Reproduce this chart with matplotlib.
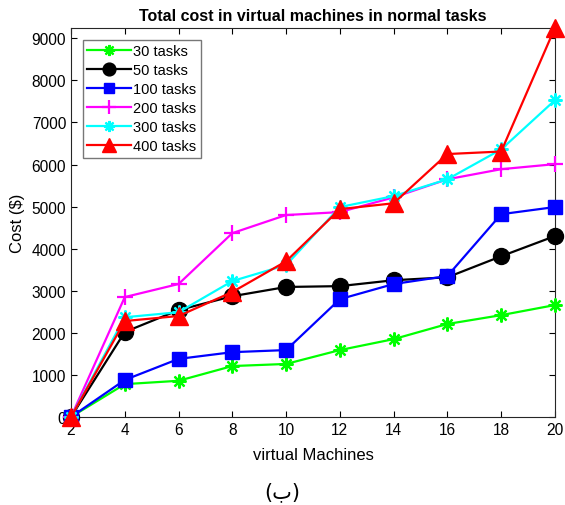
import matplotlib.pyplot as plt

plt.rcParams['font.family'] = ['Liberation Sans', 'DejaVu Sans']

vms = [2, 4, 6, 8, 10, 12, 14, 16, 18, 20]

# cost per number of tasks
t30 = [0, 780, 860, 1210, 1260, 1590, 1850, 2210, 2420, 2660]
t50 = [0, 2020, 2540, 2870, 3090, 3110, 3250, 3320, 3820, 4300]
t100 = [0, 880, 1380, 1540, 1590, 2800, 3160, 3350, 4820, 4990]
t200 = [0, 2850, 3160, 4370, 4800, 4870, 5220, 5650, 5890, 6010]
t300 = [0, 2370, 2490, 3230, 3610, 4990, 5250, 5650, 6360, 7530]
t400 = [0, 2280, 2400, 2970, 3700, 4940, 5080, 6250, 6310, 9250]

fig = plt.figure(figsize=(5.65, 5.06), dpi=100)
ax = fig.add_axes([0.1257, 0.174, 0.8565, 0.769])

kw = dict(lw=1.6, clip_on=False, zorder=3)
ax.plot(vms, t30, color='#00ff00', marker=(8, 2, 0), ms=10, mew=1.6, label='30 tasks', **kw)
ax.plot(vms, t50, color='k', marker='o', ms=11.5, label='50 tasks', **kw)
ax.plot(vms, t100, color='b', marker='s', ms=9.5, label='100 tasks', **kw)
ax.plot(vms, t200, color='#ff00ff', marker='+', ms=12, mew=1.6, label='200 tasks', **kw)
ax.plot(vms, t300, color='#00ffff', marker=(8, 2, 0), ms=10, mew=1.6, label='300 tasks', **kw)
ax.plot(vms, t400, color='r', marker='^', ms=13, label='400 tasks', **kw)

ax.set_xlim(2, 20)
ax.set_ylim(0, 9250)
ax.set_xticks(vms)
ax.set_yticks(range(0, 9001, 1000))
ax.tick_params(direction='in', top=True, right=True, labelsize=11.2, length=4)
for s in ax.spines.values():
    s.set_linewidth(0.8)
    s.set_color('#262626')

ax.set_title('Total cost in virtual machines in normal tasks', fontsize=11.5, fontweight='bold', pad=6)
ax.set_xlabel('virtual Machines', fontsize=12, labelpad=7)
ax.set_ylabel('Cost ($)', fontsize=12, labelpad=5)

leg = ax.legend(loc='upper left', fontsize=10.5, fancybox=False, edgecolor='#555555',
                handlelength=3.0, borderpad=0.3, labelspacing=0.35, handletextpad=0.15,
                borderaxespad=0, markerscale=0.8, bbox_to_anchor=(0.025, 0.97))
leg.get_frame().set_linewidth(1.0)
leg.set_zorder(5)

fig.text(0.5, 0.015, '(ب)', ha='center', fontsize=15, family=['DejaVu Sans'])

fig.savefig('out.png', dpi=100)
